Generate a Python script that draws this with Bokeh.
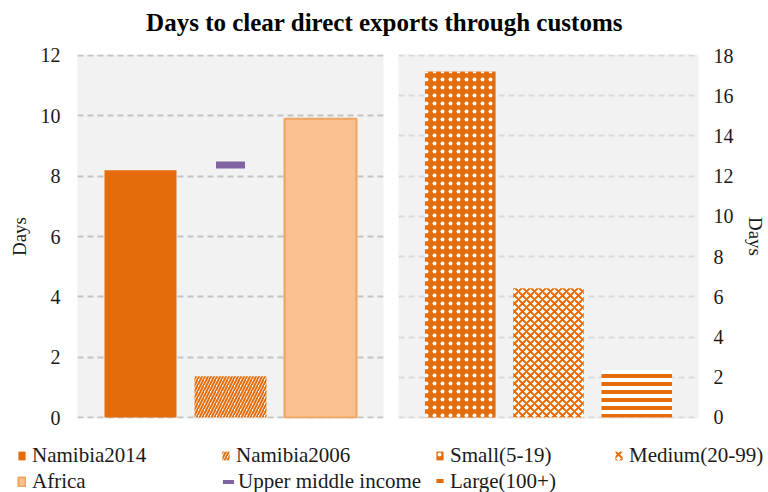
from bokeh.plotting import figure
from bokeh.models import (ColumnDataSource, FactorRange, Range1d, FixedTicker, Legend,
                          LegendItem)
from bokeh.layouts import column, row
from bokeh.embed import file_html
from bokeh.resources import INLINE

# ---------------- data ----------------
title_text = "Days to clear direct exports through customs"
left_series = ["Namibia2014", "Namibia2006", "Africa"]
left_values = [8.2, 1.37, 9.9]
umi_label = "Upper middle income"
umi_slot = "Namibia2006"
umi_value = 8.37
right_series = ["Small(5-19)", "Medium(20-99)", "Large(100+)"]
right_values = [17.2, 6.43, 2.35]
left_ticks = [0, 2, 4, 6, 8, 10, 12]
right_ticks = [0, 2, 4, 6, 8, 10, 12, 14, 16, 18]
y_label = "Days"

FONT = "Liberation Serif"
ORANGE = "#E46C0A"
LIGHT = "#FAC090"
LIGHT_LINE = "#EDA55F"
PURPLE = "#8064A2"
BG = "#F2F2F2"
TXT = "#1a1a1a"

left_styles = [
    dict(fill_color=ORANGE, line_color=None),
    dict(fill_color="white", line_color=None, hatch_pattern="/", hatch_color=ORANGE,
         hatch_scale=6, hatch_weight=2),
    dict(fill_color=LIGHT, line_color=LIGHT_LINE, line_width=2),
]
right_styles = [
    dict(fill_color=ORANGE, line_color=None, hatch_pattern=".", hatch_color="white",
         hatch_scale=8),
    dict(fill_color="white", line_color=None, hatch_pattern="x", hatch_color=ORANGE,
         hatch_scale=8, hatch_weight=2),
    dict(fill_color="white", line_color=None, hatch_pattern="-", hatch_color=ORANGE,
         hatch_scale=8, hatch_weight=4),
]


def style_panel(p, ticks, grid_color):
    p.background_fill_color = BG
    p.border_fill_color = "white"
    p.outline_line_color = None
    p.xaxis.visible = False
    p.xgrid.visible = False
    p.ygrid.ticker = FixedTicker(ticks=ticks)
    p.ygrid.bounds = (-100, 100)
    p.ygrid.grid_line_color = grid_color
    p.ygrid.grid_line_dash = "6 4"
    p.ygrid.grid_line_width = 2
    ax = p.yaxis[0]
    ax.ticker = FixedTicker(ticks=ticks)
    ax.axis_line_color = None
    ax.major_tick_line_color = None
    ax.minor_tick_line_color = None
    ax.major_tick_in = 0
    ax.major_tick_out = 0
    ax.major_label_standoff = 17
    ax.major_label_text_font = FONT
    ax.major_label_text_font_size = "20px"
    ax.major_label_text_color = TXT
    ax.axis_label = y_label
    ax.axis_label_text_font = FONT
    ax.axis_label_text_font_size = "19px"
    ax.axis_label_text_font_style = "normal"
    ax.axis_label_text_color = TXT
    ax.axis_label_standoff = 8


# ---------------- title ----------------
pt = figure(width=768, height=43, title=title_text, x_axis_type=None, y_axis_type=None,
            toolbar_location=None, output_backend="svg", min_border=0, min_border_top=40)
pt.outline_line_color = None
pt.title.align = "center"
pt.title.text_font = FONT
pt.title.text_font_size = "25px"
pt.title.text_font_style = "bold"
pt.title.text_color = "#000000"
pt.title.offset = 3
pt.xgrid.visible = False
pt.ygrid.visible = False

# ---------------- panels (y: 43 .. 428, frame 54 .. 418) ----------------
p1 = figure(width=390, height=385, x_range=FactorRange(factors=left_series, range_padding=0.2,
            range_padding_units="absolute"), y_range=Range1d(-0.033, 12.033),
            toolbar_location=None, output_backend="svg",
            min_border_left=77, min_border_right=7, min_border_top=11, min_border_bottom=10)
style_panel(p1, left_ticks, "#C4C4C4")
for name, val, st in zip(left_series, left_values, left_styles):
    src = ColumnDataSource(dict(x=[name], top=[val]))
    p1.vbar(x="x", top="top", bottom=0, width=0.8, source=src, **st)
umi_src = ColumnDataSource(dict(x=[umi_slot], y=[umi_value]))
p1.scatter(x="x", y="y", source=umi_src, marker="dash", size=29, line_width=7,
           line_color=PURPLE, fill_color=PURPLE)

p2 = figure(width=378, height=385, x_range=FactorRange(factors=right_series, range_padding=0.2,
            range_padding_units="absolute"), y_range=Range1d(-0.05, 18.05),
            y_axis_location="right", toolbar_location=None, output_backend="svg",
            min_border_left=8, min_border_right=63, min_border_top=11, min_border_bottom=10)
style_panel(p2, right_ticks, "#D9D9D9")
p2.yaxis[0].major_label_standoff = 15
for name, val, st in zip(right_series, right_values, right_styles):
    src = ColumnDataSource(dict(x=[name], top=[val]))
    p2.vbar(x="x", top="top", bottom=0, width=0.8, source=src, **st)

# ---------------- legend (y: 428 .. 492) ----------------
all_series = left_series + right_series
pl = figure(width=768, height=64, x_range=FactorRange(factors=all_series),
            y_range=Range1d(1000, 1001), x_axis_type=None, y_axis_type=None,
            toolbar_location=None, output_backend="svg", min_border=0)
pl.outline_line_color = None
pl.xgrid.visible = False
pl.ygrid.visible = False

positions = {
    left_series[0]: (17, 24), left_series[1]: (221, 24), left_series[2]: (17, -2),
    right_series[0]: (435, 24), right_series[1]: (614, 24), right_series[2]: (435, -2),
}


def add_legend(label, renderer, loc, gw, gh, standoff):
    lg = Legend(items=[LegendItem(label=label, renderers=[renderer])], location=loc,
                glyph_width=gw, glyph_height=gh, label_standoff=standoff,
                label_text_font=FONT, label_text_font_size="21px", label_text_color=TXT,
                label_height=22, spacing=0, padding=0, margin=0,
                border_line_color=None, background_fill_alpha=0,
                inactive_fill_alpha=0)
    pl.add_layout(lg, "center")


for names, vals, styles in ((left_series, left_values, left_styles),
                            (right_series, right_values, right_styles)):
    for name, val, st in zip(names, vals, styles):
        src = ColumnDataSource(dict(x=[name], top=[val]))
        r = pl.vbar(x="x", top="top", bottom=0, width=0.8, source=src, **st)
        r.visible = False
        add_legend(name, r, positions[name], 9, 11, 6)

umi_leg_src = ColumnDataSource(dict(x=[umi_slot], top=[umi_value]))
r_umi = pl.vbar(x="x", top="top", bottom=0, width=0.8, source=umi_leg_src,
                fill_color=PURPLE, line_color=None)
r_umi.visible = False
add_legend(umi_label, r_umi, (221, -2), 14, 5, 3)

layout = column(pt, row(p1, p2), pl)
open("out.html", "w").write(file_html(layout, INLINE))
